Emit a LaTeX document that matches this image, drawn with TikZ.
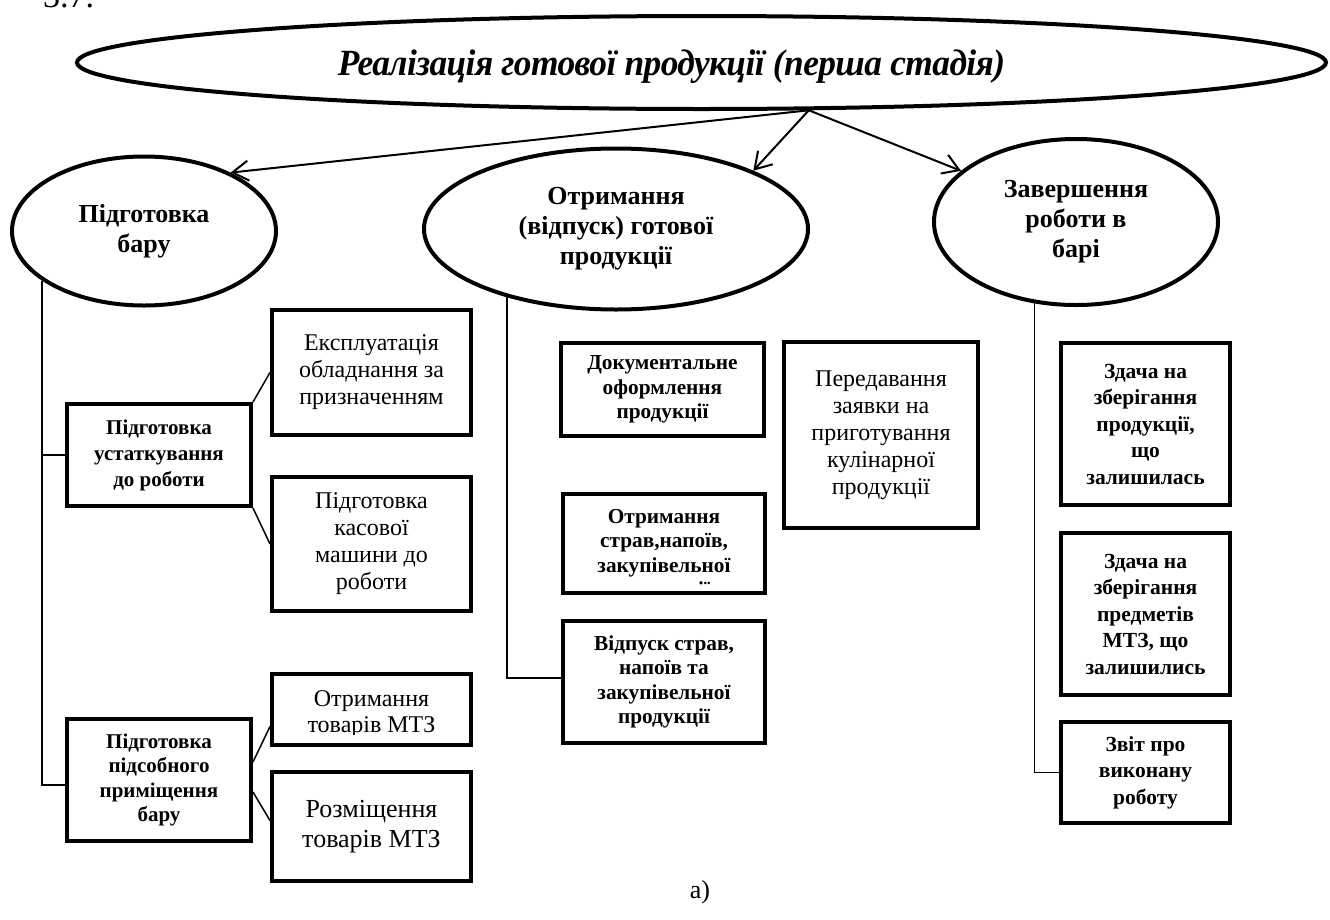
\documentclass[tikz,border=0pt]{standalone}
\usepackage{fontspec}
\setmainfont{Liberation Serif}
\newfontfamily\titlefont[LetterSpace=-1.5,FakeStretch=0.955]{Liberation Serif}
\usetikzlibrary{shapes.geometric,arrows.meta,calc}

\begin{document}
\begin{tikzpicture}[x=1pt,y=-1pt,
  oval/.style={ellipse, draw, line width=4pt, inner sep=0pt, align=center,
    font=\bfseries\fontsize{26}{30}\selectfont},
  boldbox/.style={draw, line width=4pt, inner sep=0pt, align=center,
    font=\bfseries\fontsize{21.3}{24.5}\selectfont},
  plainbox/.style={draw, line width=4pt, inner sep=0pt, align=center,
    font=\fontsize{24}{27}\selectfont},
  rightbox/.style={boldbox, font=\bfseries\fontsize{21.5}{26.5}\selectfont,
    minimum width=169pt},
  link/.style={line width=1.5pt},
  arr/.style={line width=2pt, -{Straight Barb[length=16pt,width=20pt]}},
]
\useasboundingbox (0,0) rectangle (1330,919);

% number of the figure, cut by the top edge
\node[font=\fontsize{34}{40}\selectfont, anchor=base west, inner sep=0pt] (fignum) at (43,7) {3.7.};

% main stage
\node[ellipse, draw, line width=4pt, inner sep=0pt,
  minimum width=1249pt, minimum height=93pt] (top) at (701.5,62.5) {};
\node[inner sep=0pt, anchor=base,
  font=\titlefont\bfseries\itshape\fontsize{37}{40}\selectfont] (title) at (671.5,75)
  {Реалізація готової продукції (перша стадія)};

% three sub-stages
\node[oval, minimum width=264pt, minimum height=149pt] (bar) at (144,231) {Підготовка\\бару};
\node[oval, minimum width=384pt, minimum height=161pt] (otr) at (616,229) {Отримання\\(відпуск) готової\\продукції};
\node[oval, minimum width=284pt, minimum height=166pt] (zav) at (1076,222) {Завершення\\роботи в\\барі};

\draw[arr] (top.-24) -- (bar.34);
\draw[arr] (top.-24) -- (otr.23);
\draw[arr] (top.-24) -- (zav.156);

% --- bar preparation
\node[boldbox, font=\bfseries\fontsize{21}{26}\selectfont,
  minimum width=184pt, minimum height=102pt] (ub) at (159,455) {Підготовка\\устаткування\\до роботи};
\node[plainbox, minimum width=199pt, minimum height=125pt] (ex) at (371.5,372.5) {Експлуатація\\обладнання за\\призначенням};
\node[plainbox, minimum width=199pt, minimum height=134pt] (kas) at (371.5,544) {Підготовка\\касової\\машини до\\роботи};
\node[boldbox, font=\bfseries\fontsize{21}{24.5}\selectfont,
  minimum width=184pt, minimum height=122pt] (pb) at (159,780) {Підготовка\\підсобного\\приміщення\\бару};
\node[plainbox, minimum width=199pt, minimum height=71pt] (ot) at (371.5,709.5) {};
\node[plainbox, font=\fontsize{26}{30}\selectfont,
  minimum width=199pt, minimum height=109pt] (rb) at (371.5,826.5) {Розміщення\\товарів МТЗ};

\begin{scope}
  \clip ($(ot.north west)+(2,2)$) rectangle ($(ot.south east)+(-2,-13)$);
  \node[anchor=north, inner sep=0pt, align=center, font=\fontsize{24}{26}\selectfont]
    (ot-text) at ($(ot.north)+(0,18)$) {Отримання\\товарів МТЗ};
\end{scope}

\draw[link] (bar.206) |- ($(pb.west)+(0,5)$);
\draw[link] (ub.west) -- (ub.west -| bar.206);
\draw[link] (ub.north east) -- (ex.west);
\draw[link] (ub.south east) -- (kas.west);
\draw[link] ($(pb.east)+(0,-18)$) -- ($(ot.west)+(0,17)$);
\draw[link] ($(pb.east)+(0,12)$) -- ($(rb.west)+(0,-6)$);

% --- receiving of finished products
\node[boldbox, minimum width=203pt, minimum height=93pt] (doc) at (662.5,389.5) {Документальне\\оформлення\\продукції};
\node[plainbox, minimum width=194pt, minimum height=186pt] (per) at (881,435) {Передавання\\заявки на\\приготування\\кулінарної\\продукції};
\node[boldbox, minimum width=202pt, minimum height=99pt] (ots) at (664,543.5) {};
\node[boldbox, minimum width=202pt, minimum height=122pt] (vid) at (664,682) {Відпуск страв,\\напоїв та\\закупівельної\\продукції};

\begin{scope}
  \clip ($(ots.north west)+(2,2)$) rectangle ($(ots.south east)+(-2,-10.5)$);
  \node[anchor=north, inner sep=0pt, align=center, font=\bfseries\fontsize{21.3}{24.5}\selectfont]
    (ots-text) at ($(ots.north)+(0,17)$) {Отримання\\страв,напоїв,\\закупівельної\\продукції};
\end{scope}

\draw[link] (otr.212) |- ($(vid.west)+(0,-4)$);
\draw[link] ($(doc.west)+(0,3)$) -- ($(doc.west)+(0,3)$ -| otr.212);
\draw[link] ($(ots.west)+(0,-16)$) -- ($(ots.west)+(0,-16)$ -| otr.212);
\draw[link] ($(doc.east)+(0,-3)$) -- ($(doc.east)+(0,-3)$ -| per.west);

% --- end of work in the bar
\node[rightbox, minimum height=162pt] (zd1) at (1145.5,424) {Здача на\\зберігання\\продукції,\\що\\залишилась};
\node[rightbox, minimum height=162pt] (zd2) at (1145.5,614) {Здача на\\зберігання\\предметів\\МТЗ, що\\залишились};
\node[rightbox, minimum height=101pt] (zvit) at (1145.5,772.5) {Звіт про\\виконану\\роботу};

\draw[link] (zav.243) |- (zvit.west);
\draw[link] ($(zd1.west)+(0,-15)$) -- ($(zd1.west)+(0,-15)$ -| zav.243);
\draw[link] ($(zd2.west)+(0,3)$) -- ($(zd2.west)+(0,3)$ -| zav.243);

% caption letter
\node[font=\fontsize{26}{30}\selectfont] (cap) at (700,892) {а)};
\end{tikzpicture}
\end{document}
